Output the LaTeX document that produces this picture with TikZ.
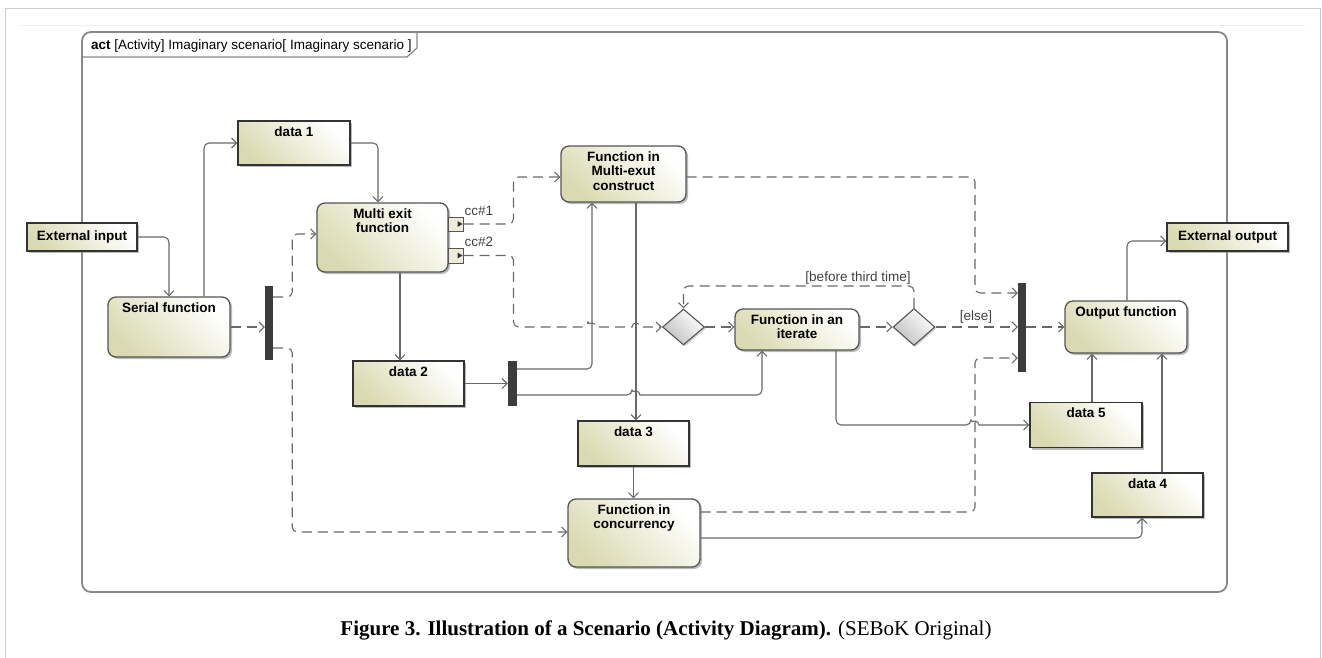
\documentclass[tikz,border=0pt]{standalone}
\usepackage{fontspec}
\usepackage{tikz}
\usetikzlibrary{arrows.meta,positioning,calc,shapes.geometric,shadows}
\newfontfamily\umlfont{Liberation Sans}
\newfontfamily\capfont{Liberation Serif}
\definecolor{olv}{RGB}{218,218,178}
\definecolor{edgegray}{RGB}{85,85,85}
\definecolor{linegray}{RGB}{105,105,105}
\definecolor{bargray}{RGB}{60,60,60}
\definecolor{framegray}{RGB}{135,135,135}
\newcommand{\umlsize}{\fontsize{13.5}{14.5}\selectfont}

\tikzset{
  shade box/.style={draw=edgegray, top color=white, bottom color=olv, shading angle=-45,
    drop shadow={shadow xshift=2pt, shadow yshift=-2pt, fill=black!45, opacity=.6}},
  act/.style={shade box, line width=1.3pt, rounded corners=8pt, inner sep=0pt},
  obj/.style={shade box, line width=1.4pt, draw=black!80, inner sep=0pt},
  param/.style={obj, line width=1.2pt, font=\umlfont\umlsize\bfseries},
  ttl/.style={label={[anchor=north, yshift=-6pt, inner sep=0pt, align=center,
    font=\umlfont\umlsize\bfseries]north:#1}},
  barbox/.style={fill=bargray, draw=none, inner sep=0pt},
  dec/.style={diamond, draw=edgegray, line width=1.1pt, top color=white, bottom color=black!25,
    shading angle=-45, inner sep=0pt, minimum width=42pt, minimum height=36pt,
    drop shadow={shadow xshift=1.5pt, shadow yshift=-1.5pt, fill=black!35, opacity=.5}},
  pinbox/.style={draw=edgegray, line width=1pt, fill=olv!50, inner sep=0pt},
  lbl/.style={font=\umlfont\umlsize, text=black!75, inner sep=1pt},
  flow/.style={draw=linegray, line width=1.1pt, -{Straight Barb[length=5pt,width=10pt]},
    rounded corners=5pt},
  ctrl/.style={flow, dash pattern=on 10pt off 6pt},
}

\begin{document}
\begin{tikzpicture}[x=1pt,y=-1pt]
\useasboundingbox (0,0) rectangle (1322,658);
% page border and frame
\draw[black!20, line width=1pt] (5,658) -- (5,9) -- (1320,9) -- (1320,658);
\draw[black!6] (20,25) -- (1305,25);
\draw[framegray, line width=1.8pt, rounded corners=9pt] (82,32) rectangle (1227,592);
\draw[framegray, line width=1.2pt] (82,57) -- (407,57) -- (417,48) -- (417,32);
\node[anchor=west, font=\umlfont\umlsize, inner sep=0pt] (title) at (91,46)
  {\textbf{act} [Activity] Imaginary scenario[ Imaginary scenario ]};

% parameter nodes on the frame
\node[param, minimum width=110pt, minimum height=28pt] (extin) at (82,237) {External input};
\node[param, minimum width=121pt, minimum height=28pt] (extout) at (1227.5,237) {External output};

% actions
\node[act, minimum width=122pt, minimum height=60pt, ttl={Serial function}] (serial) at (169,327) {};
\node[act, minimum width=131pt, minimum height=69pt, ttl={Multi exit\\function}] (multi) at (382.5,237.5) {};
\node[act, minimum width=125pt, minimum height=56pt, ttl={Function in\\Multi-exut\\construct}] (fmulti) at (623.5,174) {};
\node[act, minimum width=124pt, minimum height=41pt, ttl={Function in an\\iterate}] (iter) at (797,329.5) {};
\node[act, minimum width=132pt, minimum height=68pt, ttl={Function in\\concurrency}] (conc) at (634,533) {};
\node[act, minimum width=122pt, minimum height=52pt, ttl={Output function}] (outf) at (1126,327) {};

% object nodes
\node[obj, minimum width=112pt, minimum height=44pt, ttl={data 1}] (data1) at (294,143) {};
\node[obj, minimum width=111pt, minimum height=45pt, ttl={data 2}] (data2) at (408.5,383.5) {};
\node[obj, minimum width=111pt, minimum height=45pt, ttl={data 3}] (data3) at (633.5,443.5) {};
\node[obj, minimum width=111pt, minimum height=44pt, ttl={data 4}] (data4) at (1147.5,495) {};
\node[obj, minimum width=112pt, minimum height=45pt, ttl={data 5}] (data5) at (1086,425) {};

% fork / join bars and decisions
\node[barbox, minimum width=8pt, minimum height=74pt] (forkA) at (269,323) {};
\node[barbox, minimum width=9pt, minimum height=45pt] (forkC) at (512.5,383.5) {};
\node[barbox, minimum width=8pt, minimum height=89pt] (joinB) at (1022,327.5) {};
\node[dec] (decA) at (683.5,327) {};
\node[dec, minimum height=37pt] (decB) at (914,327) {};

% output pins
\node[pinbox, minimum width=15pt, minimum height=14pt] (pin1) at (455.5,224) {};
\node[pinbox, minimum width=15pt, minimum height=15pt] (pin2) at (455.5,255.5) {};
\foreach \p in {pin1,pin2}
  \fill[black!80] ([xshift=-1pt]\p.east) -- ++(-5,-3) -- ++(0,6) -- cycle;
\node[lbl, anchor=south west] (cc1) at (pin1.north east) {cc\#1};
\node[lbl, anchor=south west] (cc2) at (pin2.north east) {cc\#2};

\coordinate (busx) at (975,0);
\coordinate (jin1) at ([yshift=34.5pt]joinB.west);
\coordinate (jin3) at ([yshift=-30.5pt]joinB.west);

% object flows
\draw[flow] (extin.east) -| (serial.north);
\draw[flow] ([xshift=35pt]serial.north) |- (data1.west);
\draw[flow] (data1.east) -| ([xshift=-4.5pt]multi.north);
\draw[flow] ([xshift=17.5pt]multi.south) -- ([xshift=-8.5pt]data2.north);
\draw[flow] (data2.east) -- (data2.east -| forkC.west);
\draw[flow] ([yshift=14.5pt]forkC.east) -| ([xshift=-31.5pt]fmulti.south);
\draw[flow] ([yshift=-11.5pt]forkC.east) -- (632,395) [sharp corners]
  arc[start angle=180,end angle=360,radius=4] -- (650,395) [rounded corners=5pt]
  -| ([xshift=-35pt]iter.south);
\draw[flow] ([xshift=12.5pt]fmulti.south) -- ([xshift=2.5pt]data3.north);
\draw[flow] (data3.south) -- ([xshift=-0.5pt]conc.north);
\draw[flow] ([xshift=39pt]iter.south) |- (971,425) [sharp corners]
  arc[start angle=180,end angle=360,radius=4] -- (data5.west);
\draw[flow] ([yshift=-5pt]conc.east) -| ([xshift=-5.5pt]data4.south);
\draw[flow] ([xshift=6pt]data5.north) -- ([xshift=-34pt]outf.south);
\draw[flow] ([xshift=14.5pt]data4.north) -- ([xshift=36pt]outf.south);
\draw[flow] ([xshift=1pt]outf.north) |- ([yshift=-4pt]extout.west);

% control flows
\draw[ctrl] (serial.east) -- (serial.east -| forkA.west);
\draw[ctrl] ([yshift=26pt]forkA.east) -- ++(19,0) |- ([yshift=3.5pt]multi.west);
\draw[ctrl] ([yshift=-25pt]forkA.east) -- ++(19,0) |- ([yshift=1pt]conc.west);
\draw[ctrl] (pin1.east) -- ++(50,0) |- ([yshift=-3pt]fmulti.west);
\draw[ctrl] (pin2.east) -- ++(50,0) |- (588,327) [sharp corners]
  arc[start angle=180,end angle=360,radius=4] -- (632,327)
  arc[start angle=180,end angle=360,radius=4] -- (decA.west);
\draw[ctrl] (decA.east) -- (decA.east -| iter.west);
\draw[ctrl] (iter.east |- decB.west) -- (decB.west);
\draw[ctrl] (decB.north) -- ++(0,-22) -| (decA.north);
\draw[ctrl] (decB.east) -- (decB.east -| joinB.west);
\draw[ctrl] ([yshift=-3pt]fmulti.east) -| (jin1 -| busx) -- (jin1);
\draw[ctrl] ([yshift=21pt]conc.east) -| (jin3 -| busx) -- (jin3);
\draw[ctrl] (joinB.east |- outf.west) -- (outf.west);
\node[lbl, anchor=south] (guard1) at (858,285) {[before third time]};
\node[lbl] (guard2) at (976,317) {[else]};

% caption
\node[font=\capfont\fontsize{21}{24}\selectfont, inner sep=0pt] (caption) at (666,630)
  {\textbf{Figure 3. Illustration of a Scenario (Activity Diagram).} (SEBoK Original)};
\end{tikzpicture}
\end{document}
